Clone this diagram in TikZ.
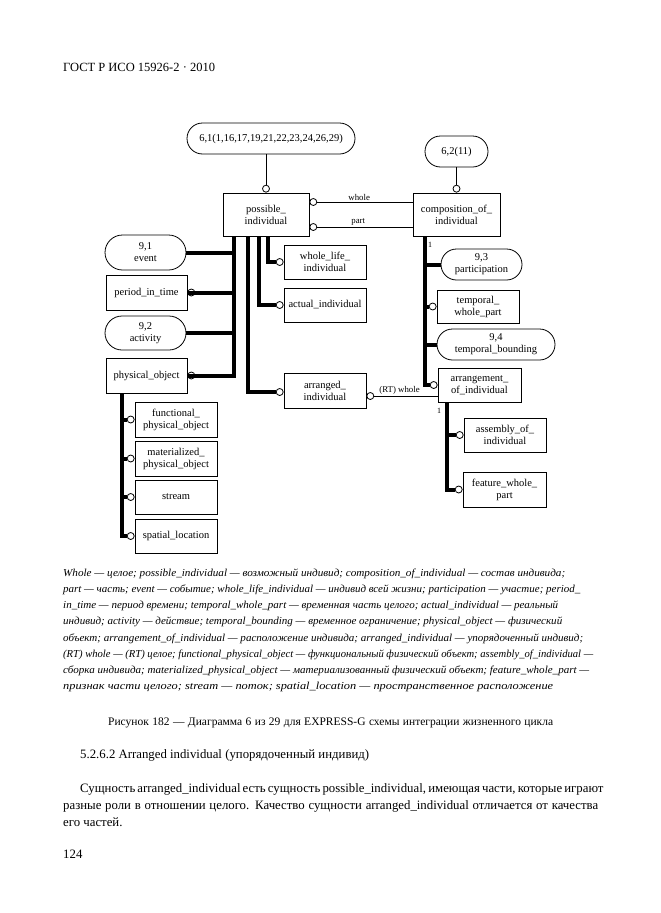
\documentclass[tikz,border=0pt]{standalone}
\usepackage{fontspec}
\usepackage{graphicx}
\setmainfont{Liberation Serif}
\usetikzlibrary{shapes.misc,calc}
\newcommand\dfont{\fontsize{10.5}{12}\selectfont}
\newcommand\lfont{\fontsize{8.8}{10}\selectfont}
\newcommand\gfont{\fontsize{10.7}{12}\selectfont\itshape}
\newcommand\bfontx{\fontsize{12.8}{15}\selectfont}
\newcommand\gline[2]{\resizebox{#1pt}{\height}{#2}}
\tikzset{
  ebox/.style={draw, line width=0.8pt, inner sep=0pt, align=center, font=\dfont},
  eoval/.style={rounded rectangle, draw, line width=0.8pt, inner sep=0pt, align=center, font=\dfont},
  oc/.style={circle, draw, fill=white, inner sep=0pt, minimum size=7pt, line width=0.8pt},
  thk/.style={line width=4pt},
  thn/.style={line width=0.8pt},
  lbl/.style={font=\lfont, inner sep=1.5pt},
  gl/.style={anchor=base west, inner sep=0pt, font=\gfont},
  tx/.style={anchor=base west, inner sep=0pt, font=\bfontx},
}
\begin{document}
\begin{tikzpicture}[x=1pt,y=-1pt]
\useasboundingbox (0,0) rectangle (661,913);
\fill[white] (0,0) rectangle (661,913);

% header
\node[anchor=base west, inner sep=0pt, font=\fontsize{12.5}{14}\selectfont] (hdr) at (63,71) {ГОСТ Р ИСО 15926-2 · 2010};

% ---- main boxes
\node[ebox, minimum width=86pt, minimum height=43pt] (pi) at (266,214.5) {possible\_\\individual};
\node[ebox, minimum width=87pt, minimum height=43pt] (cmp) at (456.5,214.5) {composition\_of\_\\individual};
\node[eoval, minimum width=168pt, minimum height=31pt] (top1) at (271,138.5) {6,1(1,16,17,19,21,22,23,24,26,29)};
\node[eoval, minimum width=63pt, minimum height=31pt] (top2) at (456.5,151.5) {6,2(11)};

% left column
\node[eoval, minimum width=81pt, minimum height=35pt] (ev) at (145.5,252.5) {9,1\\event};
\node[ebox, minimum width=81pt, minimum height=35pt] (pit) at (146.5,292.5) {period\_in\_time};
\node[eoval, minimum width=81pt, minimum height=34pt] (act) at (145.5,333) {9,2\\activity};
\node[ebox, minimum width=81pt, minimum height=35pt] (po) at (146.5,375.5) {physical\_object};

% middle column
\node[ebox, minimum width=82pt, minimum height=34pt] (wli) at (325,262) {whole\_life\_\\individual};
\node[ebox, minimum width=82pt, minimum height=34pt] (ai) at (325,305) {actual\_individual};
\node[ebox, minimum width=82pt, minimum height=35pt] (ari) at (325,390.5) {arranged\_\\individual};

% right column
\node[eoval, minimum width=81pt, minimum height=31pt] (par) at (481.5,264.5) {9,3\\participation};
\node[ebox, minimum width=82pt, minimum height=33pt] (twp) at (478,306.5) {temporal\_\\whole\_part};
\node[eoval, minimum width=118pt, minimum height=31pt] (tb) at (496,344.5) {9,4\\temporal\_bounding};
\node[ebox, minimum width=83pt, minimum height=34pt] (aoi) at (479.5,385) {arrangement\_\\of\_individual};
\node[ebox, minimum width=82pt, minimum height=34pt] (asm) at (505,435) {assembly\_of\_\\individual};
\node[ebox, minimum width=83pt, minimum height=35pt] (fwp) at (504.5,489.5) {feature\_whole\_\\part};

% physical object subtypes
\node[ebox, minimum width=82pt, minimum height=35pt] (fpo) at (176,419.5) {functional\_\\physical\_object};
\node[ebox, minimum width=82pt, minimum height=35pt] (mpo) at (176,458.5) {materialized\_\\physical\_object};
\node[ebox, minimum width=82pt, minimum height=34pt] (str) at (176,497) {stream};
\node[ebox, minimum width=82pt, minimum height=34pt] (spl) at (176,536) {spatial\_location};

% ---- circles
\node[oc, anchor=south] (cpi) at (pi.north) {};
\node[oc, anchor=south] (ccmp) at (cmp.north) {};
\node[oc, anchor=west] (cw) at ([yshift=12.5pt]pi.east) {};
\node[oc, anchor=west] (cp) at ([yshift=-12.5pt]pi.east) {};
\node[oc, anchor=west] (cpit) at (pit.east) {};
\node[oc, anchor=west] (cpo) at (po.east) {};
\node[oc, anchor=east] (cwli) at (wli.west) {};
\node[oc, anchor=east] (cai) at (ai.west) {};
\node[oc, anchor=east] (cari) at ([yshift=-1.5pt]ari.west) {};
\node[oc, anchor=west] (crt) at ([yshift=-5.5pt]ari.east) {};
\node[oc, anchor=east] (ctwp) at (twp.west) {};
\node[oc, anchor=east] (caoi) at (aoi.west) {};
\node[oc, anchor=east] (casm) at (asm.west) {};
\node[oc, anchor=east] (cfwp) at (fwp.west) {};
\node[oc, anchor=east] (cfpo) at (fpo.west) {};
\node[oc, anchor=east] (cmpo) at (mpo.west) {};
\node[oc, anchor=east] (cstr) at (str.west) {};
\node[oc, anchor=east] (cspl) at (spl.west) {};

% ---- thin connectors
\draw[thn] (cpi.north) -- (cpi.north |- top1.south);
\draw[thn] (ccmp.north) -- (ccmp.north |- top2.south);
\draw[thn] (cw.east) -- node[lbl, above, pos=0.44] {whole} (cw.east -| cmp.west);
\draw[thn] (cp.east) -- node[lbl, above, pos=0.43] {part} (cp.east -| cmp.west);
\draw[thn] (crt.east) -- node[lbl, above, pos=0.40] {(RT) whole} (crt.east -| aoi.west);

% ---- thick connectors from possible_individual
\draw[thk] ([xshift=-32pt]pi.south) |- (ev.east);
\draw[thk] ([xshift=-32pt]pi.south) |- (cpit.west);
\draw[thk] ([xshift=-32pt]pi.south) |- (act.east);
\draw[thk] ([xshift=-32pt]pi.south) |- (cpo.west);
\draw[thk] ([xshift=-18pt]pi.south) |- (cari.west);
\draw[thk] ([xshift=-7pt]pi.south) |- (cai.west);
\draw[thk] ([xshift=2pt]pi.south) |- (cwli.west);

% from composition_of_individual
\draw[thk] ([xshift=-31.5pt]cmp.south) |- (par.west);
\draw[thk] ([xshift=-31.5pt]cmp.south) |- (ctwp.west);
\draw[thk] ([xshift=-31.5pt]cmp.south) |- (tb.west);
\draw[thk] ([xshift=-31.5pt]cmp.south) |- (caoi.west);
\node[lbl, font=\fontsize{8}{9}\selectfont] (one1) at ([xshift=-26.5pt,yshift=-8pt]cmp.south) {1};

% from arrangement_of_individual
\draw[thk] ([xshift=-32.5pt]aoi.south) |- (casm.west);
\draw[thk] ([xshift=-32.5pt]aoi.south) |- (cfwp.west);
\node[lbl, font=\fontsize{8}{9}\selectfont] (one2) at ([xshift=-40.5pt,yshift=-8pt]aoi.south) {1};

% from physical_object
\draw[thk] ([xshift=-24.5pt]po.south) |- (cfpo.west);
\draw[thk] ([xshift=-24.5pt]po.south) |- (cmpo.west);
\draw[thk] ([xshift=-24.5pt]po.south) |- (cstr.west);
\draw[thk] ([xshift=-24.5pt]po.south) |- (cspl.west);

% ---- glossary
\node[gl] (g1) at (63,576) {\gline{502}{Whole — целое; possible\_individual — возможный индивид; composition\_of\_individual — состав индивида;}};
\node[gl] (g2) at (63,592) {\gline{517}{part — часть; event — событие; whole\_life\_individual — индивид всей жизни; participation — участие; period\_}};
\node[gl] (g3) at (63,608) {\gline{495}{in\_time — период времени; temporal\_whole\_part — временная часть целого; actual\_individual — реальный}};
\node[gl] (g4) at (63,624.5) {\gline{499}{индивид; activity — действие; temporal\_bounding — временное ограничение; physical\_object — физический}};
\node[gl] (g5) at (63,641) {\gline{520}{объект; arrangement\_of\_individual — расположение индивида; arranged\_individual — упорядоченный индивид;}};
\node[gl] (g6) at (63,657) {\gline{530}{(RT) whole — (RT) целое; functional\_physical\_object — функциональный физический объект; assembly\_of\_individual —}};
\node[gl] (g7) at (63,673) {\gline{526}{сборка индивида; materialized\_physical\_object — материализованный физический объект; feature\_whole\_part —}};
\node[gl] (g8) at (63,689.5) {\gline{490}{признак части целого; stream — поток; spatial\_location — пространственное расположение}};

% ---- caption and text
\node[anchor=base west, inner sep=0pt, font=\fontsize{11.5}{13}\selectfont] (cap) at (108,725.5) {\makebox[445pt][s]{Рисунок 182 — Диаграмма 6 из 29 для EXPRESS-G схемы интеграции жизненного цикла}};
\node[tx] (sec) at (80,758.5) {5.2.6.2 Arranged individual (упорядоченный индивид)};
\node[tx] (p1) at (80,792) {\makebox[517pt][s]{Сущность arranged\_individual есть сущность possible\_individual, имеющая части, которые играют}};
\node[tx] (p2) at (63,809.5) {\makebox[535pt][s]{разные роли в отношении целого. Качество сущности arranged\_individual отличается от качества}};
\node[tx] (p3) at (63,826.5) {его частей.};
\node[tx] (pg) at (63,858) {124};
\end{tikzpicture}
\end{document}
